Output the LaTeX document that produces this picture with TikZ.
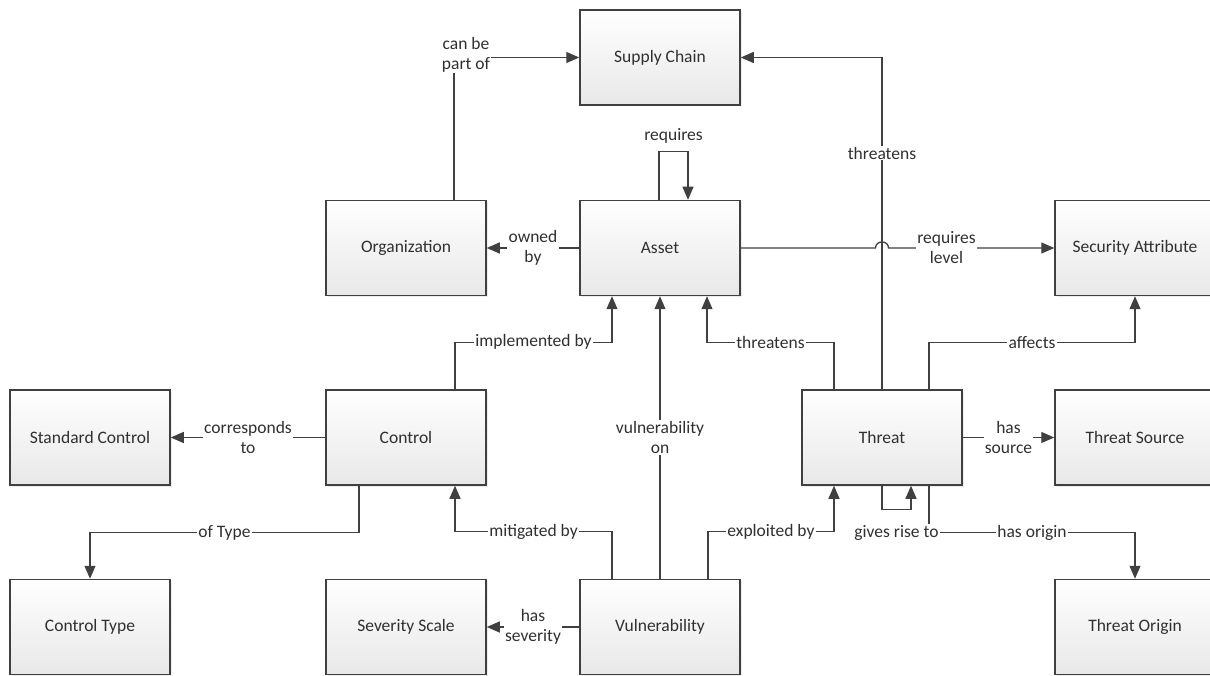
\documentclass[tikz,border=0pt]{standalone}
\usepackage{fontspec}
\setmainfont{Carlito}
\usetikzlibrary{arrows.meta,shadows}
\definecolor{edge}{HTML}{404040}
\definecolor{ink}{HTML}{303030}
\definecolor{boxbot}{HTML}{E8E8E8}

\begin{document}
\begin{tikzpicture}[x=1pt,y=-1pt,
  entity/.style={draw=edge, line width=1.5pt, top color=white, bottom color=boxbot,
    minimum width=160pt, minimum height=95pt, inner sep=0pt,
    font=\fontsize{17.5}{20}\selectfont, text=ink,
    drop shadow={opacity=0.15, shadow xshift=1.5pt, shadow yshift=-1.5pt}},
  rel/.style={draw=edge, line width=1.3pt, -{Triangle[length=13pt,width=11pt]}},
  lbl/.style={fill=white, inner sep=1.2pt, align=center,
    font=\fontsize{17.5}{20}\selectfont, text=ink}]

\clip (0,0) rectangle (1210,676);
\fill[white] (0,0) rectangle (1210,676);

% entities
\node[entity] (sc)     at (660,57.5)  {Supply Chain};
\node[entity] (org)    at (406,248)   {Organization};
\node[entity] (asset)  at (660,248)   {Asset};
\node[entity] (sec)    at (1135,248)  {Security Attribute};
\node[entity] (std)    at (90,437.5)  {Standard Control};
\node[entity] (ctrl)   at (406,437.5) {Control};
\node[entity] (threat) at (882,437.5) {Threat};
\node[entity] (tsrc)   at (1135,437.5){Threat Source};
\node[entity] (ctype)  at (90,627)    {Control Type};
\node[entity] (sev)    at (406,627)   {Severity Scale};
\node[entity] (vuln)   at (660,627)   {Vulnerability};
\node[entity] (torig)  at (1135,627)  {Threat Origin};

% top part
\draw[rel] ([xshift=48pt]org.north) |- (sc.west)
  node[lbl,pos=0.5,xshift=12pt,yshift=3pt]{can be\\part of};
\draw[rel] (asset.west) -- (org.east) node[lbl,midway]{owned\\by};
\draw[rel] ([xshift=-1pt]asset.north) -- ++(0,-48) -| ([xshift=28pt]asset.north)
  node[lbl,pos=0.25,yshift=16pt,fill=none]{requires};
\draw[rel] (threat.north) |- (sc.east) node[lbl,pos=0.356]{threatens};
\draw[rel] (asset.east) -- ([xshift=-6.5pt]asset.east -| threat.north)
  .. controls +(0,-8) and +(0,-8) .. ([xshift=6.5pt]asset.east -| threat.north)
  -- (sec.west) node[lbl,pos=0.35]{requires\\level};

% links into Asset and Security Attribute
\draw[rel] ([xshift=49pt]ctrl.north) -- ++(0,-47) -| ([xshift=-48pt]asset.south)
  node[lbl,pos=0.25]{implemented by};
\draw[rel] (vuln.north) -- (asset.south) node[lbl,midway]{vulnerability\\on};
\draw[rel] ([xshift=-48pt]threat.north) -- ++(0,-47) -| ([xshift=47pt]asset.south)
  node[lbl,pos=0.25]{threatens};
\draw[rel] ([xshift=47pt]threat.north) -- ++(0,-47) -| (sec.south)
  node[lbl,pos=0.25]{affects};

% middle row
\draw[rel] (ctrl.west) -- (std.east) node[lbl,midway]{corresponds\\to};
\draw[rel] (threat.east) -- (tsrc.west) node[lbl,midway]{has\\source};

% lower part
\draw[rel] ([xshift=-47pt]ctrl.south) -- ++(0,47) -| (ctype.north)
  node[lbl,pos=0.25]{of Type};
\draw[rel] ([xshift=-48pt]vuln.north) -- ++(0,-47) -| ([xshift=49pt]ctrl.south)
  node[lbl,pos=0.25]{mitigated by};
\draw[rel] (vuln.west) -- (sev.east) node[lbl,midway]{has\\severity};
\draw[rel] ([xshift=48pt]vuln.north) -- ++(0,-47) -| ([xshift=-48pt]threat.south)
  node[lbl,pos=0.25]{exploited by};
\draw[rel] ([xshift=47pt]threat.south) -- ++(0,47) -| (torig.north)
  node[lbl,pos=0.25]{has origin};
\draw[rel] (threat.south) -- ++(0,24) -| ([xshift=29pt]threat.south)
  node[lbl,pos=0.25,yshift=-23pt]{gives rise to};
\end{tikzpicture}
\end{document}
